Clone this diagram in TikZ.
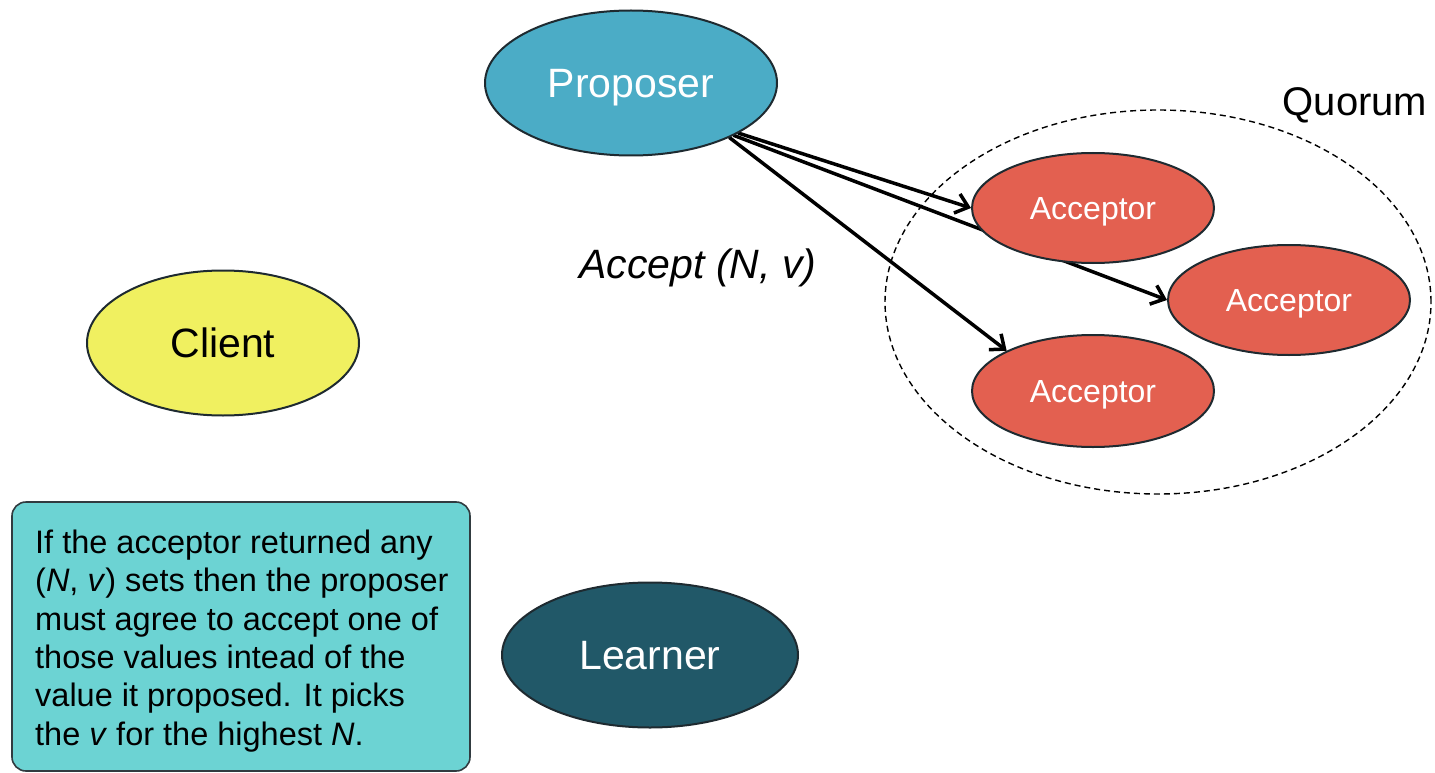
\documentclass[tikz,border=0pt]{standalone}
\usepackage{fontspec}
\setmainfont{Liberation Sans}
\usetikzlibrary{shapes.geometric,arrows.meta}
\definecolor{propfill}{HTML}{4BACC6}
\definecolor{clientfill}{HTML}{F0F060}
\definecolor{learnfill}{HTML}{215868}
\definecolor{accfill}{HTML}{E36050}
\definecolor{notefill}{HTML}{6CD3D3}
\definecolor{edgecol}{HTML}{1E2A30}
\pgfdeclarelayer{under}
\pgfsetlayers{under,main}
\tikzset{
  role/.style={ellipse, draw=edgecol, line width=2pt, inner sep=0pt,
    text depth=0pt, font=\fontsize{41}{49}\selectfont},
  acceptor/.style={role, fill=accfill, text=white,
    minimum width=242pt, minimum height=110pt,
    font=\fontsize{32}{38}\selectfont},
  msg/.style={line width=3.5pt, line cap=round,
    -{Straight Barb[length=12pt,width=20pt,line width=3.5pt]}},
  quorumring/.style={ellipse, draw=black, line width=1.4pt,
    dash pattern=on 6pt off 4pt, inner sep=0pt},
  notebox/.style={draw=edgecol!80!gray, line width=1.6pt, fill=notefill,
    rounded corners=14pt, inner sep=0pt}
}
\begin{document}
\begin{tikzpicture}[x=1pt,y=-1pt]
\useasboundingbox (0,0) rectangle (1435,773);

% roles
\node[role, fill=propfill, text=white, minimum width=292pt, minimum height=145pt]
  (P) at (631,83) {Proposer};
\node[role, fill=clientfill, text=black, minimum width=272pt, minimum height=145pt]
  (C) at (223,343) {Client};
\node[role, fill=learnfill, text=white, minimum width=296pt, minimum height=145pt]
  (L) at (650,655) {Learner};

% acceptors
\node[acceptor] (A1) at (1093,208) {Acceptor};
\node[acceptor] (A2) at (1289,300) {Acceptor};
\node[acceptor, minimum height=112pt] (A3) at (1093,391) {Acceptor};

% quorum and messages, drawn beneath the nodes
\begin{pgfonlayer}{under}
  \node[quorumring, minimum width=546pt, minimum height=384pt] (Q) at (1158,302) {};
  \draw[msg] (P.-25) -- (A1.west);
  \draw[msg] (P.-27) -- (A2.west);
  \draw[msg] (P.-29) -- (A3.155);
\end{pgfonlayer}

\node[font=\fontsize{40}{48}\selectfont] (qlabel) at (1355,105) {Quorum};
\node[font=\fontsize{41}{49}\selectfont\itshape] (acc) at (698,268) {Accept (N, v)};

% explanatory note
\node[notebox, minimum width=458pt, minimum height=269pt] (note) at (241,636.5) {};
\node[anchor=north west, inner sep=0pt, align=left,
      font=\fontsize{32.5}{38.4}\selectfont] (notetext) at (35,529.5)
  {If the acceptor returned any\\
   (\textit{N}, \textit{v}) sets then the proposer\\
   must agree to accept one of\\
   those values intead of the\\
   value it proposed. It picks\\
   the \textit{v} for the highest \textit{N}.};
\end{tikzpicture}
\end{document}
